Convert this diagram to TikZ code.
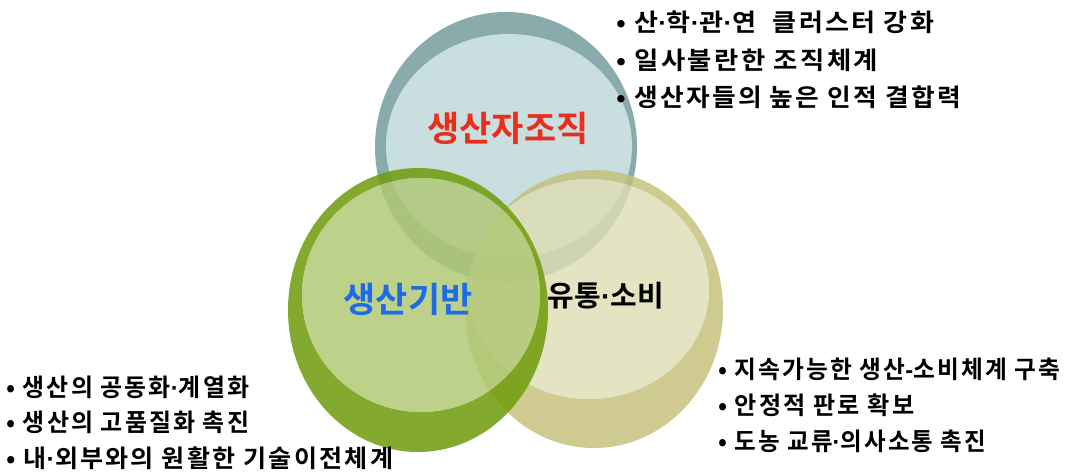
\documentclass[tikz,border=0pt]{standalone}
\usepackage{fontspec}
\usepackage{graphicx}
\newfontfamily\kr{Noto Sans CJK KR}[BoldFont={* Bold}]
\newfontfamily\lat{Liberation Sans}
\newcommand\md{{\lat\bfseries ·}}
\newcommand\hy{{\lat\bfseries -}}
\newcommand\fitw[2]{\resizebox{#1pt}{\height}{#2}}
\begin{document}
\begin{tikzpicture}[x=1pt,y=-1pt,
  bullet/.style={anchor=west,inner sep=0pt,font=\kr\bfseries\fontsize{24.5}{26}\selectfont\addfontfeature{LetterSpace=9},text=black},
  biglabel/.style={inner sep=0pt,font=\kr\bfseries\fontsize{35}{38}\selectfont}]
\definecolor{topRim}{HTML}{8AABAC}
\definecolor{topIn}{HTML}{C8DEDF}
\definecolor{grRim}{HTML}{6F9C0C}
\definecolor{grIn}{HTML}{B0C875}
\definecolor{ylRim}{HTML}{C4C078}
\definecolor{ylIn}{HTML}{DEDDB4}
\definecolor{redT}{HTML}{EA2E1C}
\definecolor{blueT}{HTML}{1C6CE6}
\useasboundingbox (0,0) rectangle (1065,475);
% top circle (production organisation)
\fill[topRim] (506,147) ellipse [x radius=131,y radius=135];
\fill[topIn] (509,146) ellipse [x radius=123,y radius=112];
% right circle (distribution / consumption)
\fill[ylRim,opacity=0.82,even odd rule] (594,309) ellipse [x radius=129,y radius=139] (589,289) ellipse [x radius=120,y radius=110];
\fill[ylIn,opacity=0.82] (589,289) ellipse [x radius=120,y radius=110];
% left circle (production base)
\fill[grRim,opacity=0.86,even odd rule] (418,310) ellipse [x radius=130,y radius=142] (421,295) ellipse [x radius=119,y radius=117];
\fill[grIn,opacity=0.84] (421,295) ellipse [x radius=119,y radius=117];
% labels
\node[biglabel,text=redT] (org) at (508,128) {생산자조직};
\node[biglabel,text=blueT] (base) at (408,299) {생산기반};
\node[biglabel,text=black,font=\kr\bfseries\fontsize{29}{32}\selectfont] (dist) at (606,296) {유통\md 소비};
% bullet lists
\node[bullet] (t1) at (616,22) {\fitw{318}{• 산\md 학\md 관\md 연\ \ 클러스터 강화}};
\node[bullet] (t2) at (616,60) {\fitw{262}{• 일사불란한 조직체계}};
\node[bullet] (t3) at (616,97) {\fitw{345}{• 생산자들의 높은 인적 결합력}};
\node[bullet] (l1) at (6,387) {\fitw{243}{• 생산의 공동화\md 계열화}};
\node[bullet] (l2) at (6,422) {\fitw{243}{• 생산의 고품질화 촉진}};
\node[bullet] (l3) at (6,458) {\fitw{387}{• 내\md 외부와의 원활한 기술이전체계}};
\node[bullet] (r1) at (718,369) {\fitw{342}{• 지속가능한 생산\hy 소비체계 구축}};
\node[bullet] (r2) at (718,405) {\fitw{196}{• 안정적 판로 확보}};
\node[bullet] (r3) at (718,441) {\fitw{268}{• 도농 교류\md 의사소통 촉진}};
\end{tikzpicture}
\end{document}
